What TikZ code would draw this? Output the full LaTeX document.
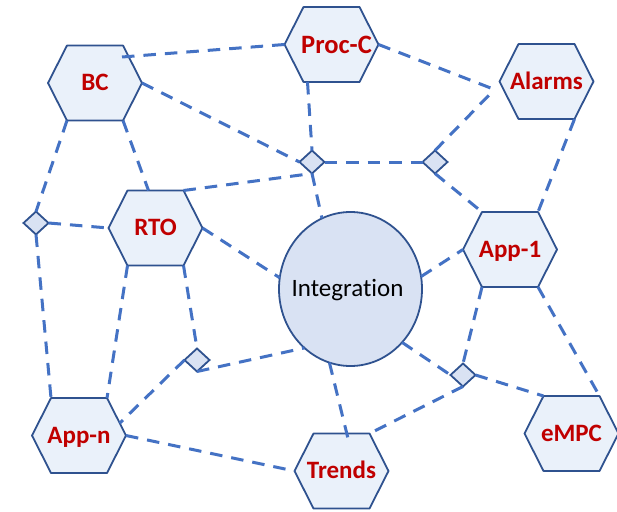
\documentclass[tikz,border=0pt]{standalone}
\usepackage{fontspec}
\setmainfont{Carlito}[Ligatures=NoCommon]
\usetikzlibrary{shapes.geometric,calc}

\definecolor{hexfill}{HTML}{EAF1FA}
\definecolor{softfill}{HTML}{D9E2F3}
\definecolor{edgeblue}{HTML}{2F528F}
\definecolor{linkblue}{HTML}{4472C4}
\definecolor{labelred}{HTML}{C00000}

\tikzset{
  hexshape/.style={draw=edgeblue, fill=hexfill, line width=1.8pt, line join=round},
  hexlabel/.style={text=labelred, font=\bfseries\fontsize{25pt}{30pt}\selectfont, inner sep=0pt},
  junction/.style={diamond, draw=edgeblue, fill=softfill, line width=1.8pt,
    minimum width=25pt, minimum height=23pt, inner sep=0pt, outer sep=0pt},
  hub/.style={ellipse, draw=edgeblue, fill=softfill, line width=1.8pt,
    minimum width=143pt, minimum height=154pt, inner sep=0pt, outer sep=0pt},
  hublabel/.style={inner sep=0pt, font=\fontsize{25pt}{30pt}\selectfont},
  link/.style={draw=linkblue, line width=3pt, dash pattern=on 12.5pt off 9pt},
  % flat-topped hexagon with named corners and a centred label
  hexbox/.pic={
    \path[hexshape] (-47,0) coordinate (-w) -- (-28,-37.5) coordinate (-nw)
      -- (28,-37.5) coordinate (-ne) -- (47,0) coordinate (-e)
      -- (28,37.5) coordinate (-se) -- (-28,37.5) coordinate (-sw) -- cycle;
    \coordinate (-c) at (0,0);
    \node[hexlabel, anchor=base] (-t) at (0,7.5) {#1};
  }
}

\begin{document}
\begin{tikzpicture}[x=1pt, y=-1pt]
\useasboundingbox (0,0) rectangle (617,511);

% application blocks
\pic (bc)     at (95,83)      {hexbox=BC};
\pic[hexlabel/.append style={xshift=5pt, yshift=-1pt,
     font=\bfseries\fontsize{26.5pt}{30pt}\selectfont}]
     (procc)  at (331.5,44.5) {hexbox=Proc-C};
\pic (alarms) at (546.5,81.5) {hexbox=Alarms};
\pic (rto)    at (155.5,228)  {hexbox=RTO};
\pic (app1)   at (510,249.5)  {hexbox=App-1};
\pic (appn)   at (79,435.5)   {hexbox=App-n};
\pic (trends) at (341.5,471)  {hexbox=Trends};
\pic (empc)   at (571.5,433.5){hexbox=eMPC};

% central hub
\node[hub] (integ) at (350.5,289) {};
\node[hublabel, anchor=base] (integtext) at (347.5,296) {Integration};

% small junction diamonds
\node[junction] (d1) at (312,162) {};
\node[junction] (d2) at (435,162) {};
\node[junction] (d3) at (36,223)  {};
\node[junction] (d4) at (197,360) {};
\node[junction] (d5) at (463,375) {};

\coordinate (alarmsjoin) at ($(alarms-w)+(-5,8)$);

% dashed links
\path[link] ($(bc-c)+(27,-26)$) -- (procc-w);
\path[link] (procc-e) -- (alarmsjoin);
\path[link] (d2.north) -- (alarmsjoin);
\path[link] (bc-e) -- (d1.west);
\path[link] ($(procc-sw)+(4,0)$) -- (d1.north);
\path[link] (d1.east) -- (d2.west);
\path[link] (d2.south) -- (app1-nw);
\path[link] (alarms-se) -- (app1-ne);
\path[link] (rto-ne) -- (d1.south);
\path[link] (d1.south) -- (integ.112);
\path[link] (bc-se) -- ($(rto-nw)+(21,0)$);
\path[link] (bc-sw) -- (d3.north);
\path[link] (d3.east) -- (rto-w);
\path[link] (d3.south) -- (appn-nw);
\path[link] (rto-sw) -- (appn-ne);
\path[link] (rto-se) -- (d4.north);
\path[link] (rto-e) -- (integ.171);
\path[link] (d4.west) -- ($(appn-ne)!0.67!(appn-e)$);
\path[link] (d4.south) -- (integ.232);
\path[link] (appn-e) -- (trends-w);
\path[link] (integ.254) -- ($(trends-nw)+(35,7)$);
\path[link] (integ.314) -- (d5.west);
\path[link] (d5.south) -- (trends-ne);
\path[link] (d5.east) -- (empc-nw);
\path[link] (app1-sw) -- (d5.north);
\path[link] (app1-se) -- (empc-ne);
\path[link] (integ.10) -- (app1-w);
\end{tikzpicture}
\end{document}
